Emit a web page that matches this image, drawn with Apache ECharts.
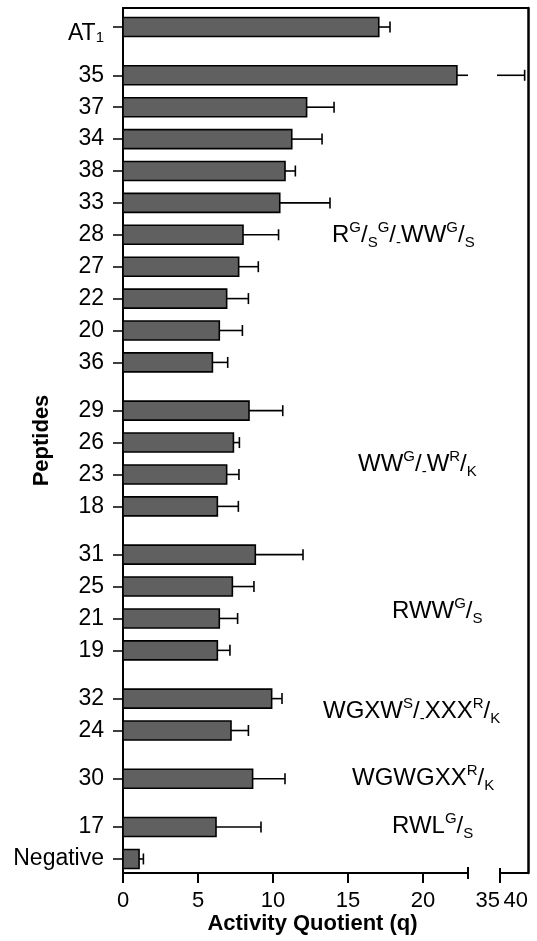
<!DOCTYPE html>
<html><head><meta charset="utf-8">
<script src="https://cdn.jsdelivr.net/npm/echarts@6/dist/echarts.min.js"></script>
<style>html,body{margin:0;padding:0;background:#fff}#c{width:537px;height:941px}</style>
</head><body><div id="c"></div>
<script>
// ---------- data ----------
const peptides = ['AT1','35','37','34','38','33','28','27','22','20','36','29','26','23','18','31','25','21','19','32','24','30','17','Negative'];
const groupOf  = [0,1,1,1,1,1,1,1,1,1,1,2,2,2,2,3,3,3,3,4,4,5,6,6];
const activity = [17.05,22.26,12.24,11.25,10.8,10.45,8.0,7.71,6.91,6.42,5.96,8.4,7.36,6.91,6.29,8.82,7.29,6.42,6.29,9.91,7.2,8.64,6.2,1.07];
const errorPlus = [0.75,17.14,1.83,2.02,0.69,3.35,2.37,1.31,1.45,1.54,1.02,2.25,0.4,0.82,1.4,3.18,1.44,1.22,0.84,0.69,1.16,2.16,3.0,0.29];
const xTicksLow = [0,5,10,15,20];
const xTicksHigh = [35,40];
const lowMax = 23;
const groupNotes = ['R^G/_S^G/_-WW^G/_S','WW^G/_-W^R/_K','RWW^G/_S','WGXW^S/_-XXX^R/_K','WGWGXX^R/_K','RWL^G/_S'];

// ---------- layout / style ----------
const FONT = '"Liberation Sans", Arial, Helvetica, sans-serif';
const GAP = 0.513;
const notePos = [[332,235],[358,464],[392,611],[323,711],[352,778],[392,826]];

const pos = [];
{ let p = 0; for (let i = 0; i < peptides.length; i++) { if (i > 0) p += 1 + (groupOf[i] !== groupOf[i-1] ? GAP : 0); pos.push(p); } }
const yMin = -0.596, yMax = pos[pos.length-1] + 0.44;
const rows = peptides.map((n,i)=>[activity[i], pos[i], errorPlus[i]]);

function richNote(s){
  let out = '', buf = '';
  const flush = () => { if (buf) { out += '{b|' + buf + '}'; buf = ''; } };
  for (let i = 0; i < s.length; i++) {
    const c = s[i];
    if (c === '^') { flush(); out += '{p|' + s[++i] + '}'; }
    else if (c === '_') { flush(); out += '{d|' + s[++i] + '}'; }
    else buf += c;
  }
  flush();
  return out;
}
const noteRich = {
  b: {fontSize: 24, lineHeight: 30, verticalAlign: 'middle', fontFamily: FONT, fill: '#000', color: '#000'},
  p: {fontSize: 15, lineHeight: 22, verticalAlign: 'top', fontFamily: FONT, fill: '#000', color: '#000'},
  d: {fontSize: 15, lineHeight: 15, verticalAlign: 'bottom', fontFamily: FONT, fill: '#000', color: '#000'}
};

const BAR_H = 19, LW = 1.6, CAP = 5.5;
function barItem(params, api){
  const v = api.value(0), p = api.value(1), e = api.value(2);
  const base = api.coord([0, p]);
  const end = api.coord([v, p]);
  const hi = v + e;
  const errEnd = api.coord([Math.min(hi, lowMax), p]);
  const ch = [];
  ch.push({type:'line', shape:{x1:end[0], y1:end[1], x2:errEnd[0], y2:errEnd[1]}, style:{stroke:'#000', lineWidth:LW}});
  if (hi <= lowMax) ch.push({type:'line', shape:{x1:errEnd[0], y1:errEnd[1]-CAP, x2:errEnd[0], y2:errEnd[1]+CAP}, style:{stroke:'#000', lineWidth:LW}});
  ch.push({type:'rect', shape:{x:base[0], y:base[1]-BAR_H/2, width:end[0]-base[0], height:BAR_H}, style:{fill:'#606060', stroke:'#000', lineWidth:LW}});
  return {type:'group', children: ch};
}
function highItem(params, api){
  const v = api.value(0), p = api.value(1), e = api.value(2);
  const hi = v + e;
  if (hi <= xTicksHigh[0]) return null;
  const s = api.coord([Math.max(v, xTicksHigh[0]), p]);
  const t = api.coord([hi, p]);
  return {type:'group', children:[
    {type:'line', shape:{x1:s[0]-3, y1:s[1], x2:t[0], y2:t[1]}, style:{stroke:'#000', lineWidth:LW}},
    {type:'line', shape:{x1:t[0], y1:t[1]-CAP, x2:t[0], y2:t[1]+CAP}, style:{stroke:'#000', lineWidth:LW}}
  ]};
}

function labelFor(value){
  const i = pos.findIndex(q => Math.abs(q - value) < 1e-6);
  if (i < 0) return '';
  const n = peptides[i];
  if (n === 'AT1') return '{z| }{a|AT}{s|1}';
  return n;
}

const noAxis = {show:false};
const chart = echarts.init(document.getElementById('c'), null, {renderer:'canvas'});
chart.setOption({
  animation: false,
  backgroundColor: '#fff',
  grid: [
    {left:123, width:345, top:8, bottom:68, outerBoundsMode:'none', containLabel:false},
    {left:500, width:28, top:8, bottom:68, outerBoundsMode:'none', containLabel:false},
    {left:123, right:9, top:8, bottom:68, outerBoundsMode:'none', containLabel:false}
  ],
  xAxis: [
    {gridIndex:0, type:'value', position:'bottom', min:0, max:lowMax,
     axisLine:{show:true, onZero:false, lineStyle:{color:'#000', width:2}},
     axisTick:{show:true, customValues:xTicksLow, length:10, lineStyle:{color:'#000', width:2}},
     axisLabel:{show:true, customValues:xTicksLow, margin:17, color:'#000', fontSize:22, fontFamily:FONT},
     splitLine:{show:false},
     name:'Activity Quotient (q)', nameLocation:'middle', nameGap:40, nameMoveOverlap:false,
     nameTextStyle:{color:'#000', fontSize:22, fontWeight:'bold', fontFamily:FONT, padding:[0,0,0,34]}},
    {gridIndex:1, type:'value', position:'bottom', min:xTicksHigh[0], max:xTicksHigh[1],
     axisLine:{show:true, onZero:false, lineStyle:{color:'#000', width:2}},
     axisTick:{show:false},
     axisLabel:{show:true, customValues:xTicksHigh, margin:17, color:'#000', fontSize:22, fontFamily:FONT, align:'right'},
     splitLine:{show:false}},
    {gridIndex:2, type:'value', position:'top', min:0, max:1,
     axisLine:{show:true, onZero:false, lineStyle:{color:'#000', width:2}},
     axisTick:noAxis, axisLabel:noAxis, splitLine:noAxis}
  ],
  yAxis: [
    {gridIndex:0, type:'value', position:'left', inverse:true, min:yMin, max:yMax,
     axisLine:{show:true, onZero:false, lineStyle:{color:'#000', width:2}},
     axisTick:{show:true, customValues:pos, length:10, lineStyle:{color:'#000', width:1.5}},
     axisLabel:{show:true, customValues:pos, formatter:labelFor, margin:19, color:'#000', fontSize:23, fontFamily:FONT,
       rich:{
         z:{fontSize:1, lineHeight:36, verticalAlign:'middle', fontFamily:FONT, color:'#000'},
         a:{fontSize:23, lineHeight:22, verticalAlign:'bottom', fontFamily:FONT, color:'#000'},
         s:{fontSize:15, lineHeight:12, verticalAlign:'bottom', fontFamily:FONT, color:'#000'}
       }},
     splitLine:{show:false},
     name:'Peptides', nameLocation:'middle', nameGap:70, nameRotate:90, nameMoveOverlap:false,
     nameTextStyle:{color:'#000', fontSize:22, fontWeight:'bold', fontFamily:FONT}},
    {gridIndex:1, type:'value', inverse:true, min:yMin, max:yMax, show:false, splitLine:noAxis},
    {gridIndex:2, type:'value', position:'right', min:0, max:1,
     axisLine:{show:true, onZero:false, lineStyle:{color:'#000', width:2.5}},
     axisTick:noAxis, axisLabel:noAxis, splitLine:noAxis}
  ],
  series: [
    {type:'custom', xAxisIndex:0, yAxisIndex:0, renderItem:barItem, data:rows, clip:false, silent:true},
    {type:'custom', xAxisIndex:1, yAxisIndex:1, renderItem:highItem, data:rows, clip:false, silent:true}
  ]
});

// axis-break tick marks, placed from the axes' own scales
const bLow = chart.convertToPixel({xAxisIndex:0, yAxisIndex:0}, [lowMax, yMax]);
const bHigh = chart.convertToPixel({xAxisIndex:1, yAxisIndex:1}, [xTicksHigh[0], yMax]);
const graphics = groupNotes.map((s,i)=>({
  type:'text', x:notePos[i][0], y:notePos[i][1], silent:true,
  style:{text:richNote(s), rich:noteRich, align:'left', verticalAlign:'middle', fill:'#000', font:'24px ' + FONT}
}));
graphics.push({type:'line', silent:true, shape:{x1:bLow[0], y1:bLow[1]-6, x2:bLow[0], y2:bLow[1]+6}, style:{stroke:'#000', lineWidth:2}});
graphics.push({type:'line', silent:true, shape:{x1:bHigh[0], y1:bHigh[1]-5, x2:bHigh[0], y2:bHigh[1]+10}, style:{stroke:'#000', lineWidth:2}});
chart.setOption({graphic: graphics});
</script></body></html>
